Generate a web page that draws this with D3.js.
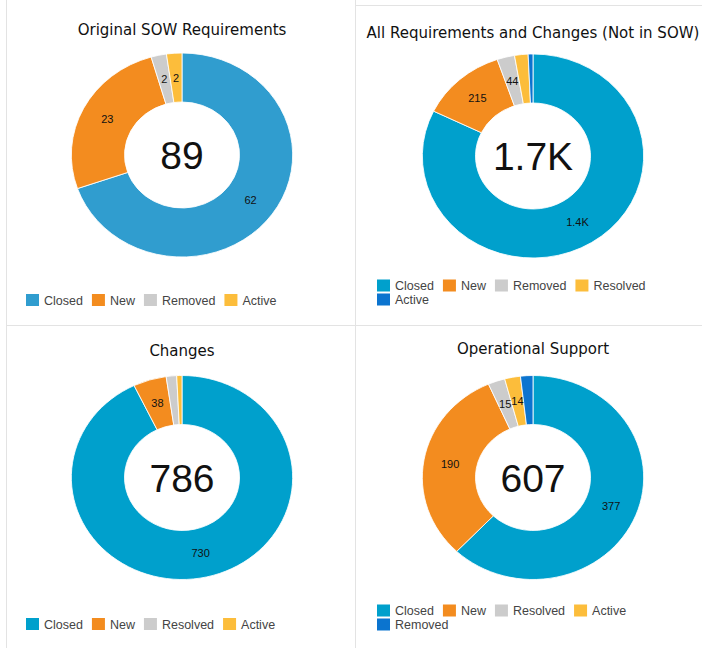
<!DOCTYPE html>
<html>
<head>
<meta charset="utf-8">
<script src="https://cdn.jsdelivr.net/npm/d3@7"></script>
<style>
  html, body { margin: 0; padding: 0; background: #fff; }
  svg { display: block; }
</style>
</head>
<body>
<div id="chart"></div>
<script>
// chart data
var sowCategories = ["Closed", "New", "Removed", "Active"];
var sowValues = [62, 23, 2, 2];

var allCategories = ["Closed", "New", "Removed", "Resolved", "Active"];
var allValues = [1413, 215, 44, 34, 12];

var changeCategories = ["Closed", "New", "Resolved", "Active"];
var changeValues = [730, 38, 12, 6];

var opsCategories = ["Closed", "New", "Resolved", "Active", "Removed"];
var opsValues = [377, 190, 15, 14, 11];

var titles = ["Original SOW Requirements", "All Requirements and Changes (Not in SOW)", "Changes", "Operational Support"];

// colours by slot (the SOW chart has a softer blue)
var slotColors = ["#00a0cc", "#f38c1f", "#cccccc", "#fcbd3b", "#0b74cf"];
var sowColors = ["#309dcf", "#f38c1f", "#cccccc", "#fcbd3b"];

var width = 702, height = 648;

var svg = d3.select("#chart").append("svg")
    .attr("width", width)
    .attr("height", height);

// panel borders
var border = "#e3e3e3";
svg.append("line").attr("x1", 6.5).attr("x2", 6.5).attr("y1", 0).attr("y2", height).attr("stroke", border);
svg.append("line").attr("x1", 355.5).attr("x2", 355.5).attr("y1", 0).attr("y2", height).attr("stroke", border);
svg.append("line").attr("x1", 356).attr("x2", width).attr("y1", 5.5).attr("y2", 5.5).attr("stroke", border);
svg.append("line").attr("x1", 7).attr("x2", width).attr("y1", 325.5).attr("y2", 325.5).attr("stroke", border);

var panels = [
    {title: titles[0], cats: sowCategories, vals: sowValues, colors: sowColors,
     cx: 182, cy: 155, titleY: 35, legendX: 26, legendY: 300, legendMax: 330},
    {title: titles[1], cats: allCategories, vals: allValues, colors: slotColors,
     cx: 533, cy: 156, titleY: 38, legendX: 377, legendY: 285.5, legendMax: 685},
    {title: titles[2], cats: changeCategories, vals: changeValues, colors: slotColors,
     cx: 182, cy: 477.5, titleY: 356, legendX: 26, legendY: 624, legendMax: 330},
    {title: titles[3], cats: opsCategories, vals: opsValues, colors: slotColors,
     cx: 533, cy: 477.5, titleY: 354, legendX: 377, legendY: 610.5, legendMax: 685}
];

var outerR = 102, innerR = 53, stretchX = 1.085;
var fmt = function(v) {
    if (v >= 1000) return d3.format(".2~s")(v).replace("k", "K");
    return "" + v;
};

panels.forEach(function(p) {
    var g = svg.append("g");

    g.append("text")
        .attr("x", p.cx)
        .attr("y", p.titleY)
        .attr("text-anchor", "middle")
        .style("font-family", "'DejaVu Sans', Verdana, sans-serif")
        .style("font-size", "15px")
        .style("fill", "#111")
        .text(p.title);

    var data = p.cats.map(function(c, i) { return {cat: c, value: p.vals[i], color: p.colors[i]}; });
    var pie = d3.pie().sort(null).value(function(d) { return d.value; });
    var arc = d3.arc().innerRadius(innerR).outerRadius(outerR);
    var arcs = pie(data);
    var total = d3.sum(p.vals);

    var donut = g.append("g")
        .attr("transform", "translate(" + p.cx + "," + p.cy + ") scale(" + stretchX + ",1)");

    donut.selectAll("path")
        .data(arcs)
        .enter().append("path")
        .attr("d", arc)
        .attr("fill", function(d) { return d.data.color; })
        .attr("stroke", "#fff")
        .attr("stroke-width", 0.8);

    // slice labels, only where the slice is wide enough
    g.selectAll("text.slice")
        .data(arcs.filter(function(d) { return (d.endAngle - d.startAngle) > 0.135; }))
        .enter().append("text")
        .attr("class", "slice")
        .attr("x", function(d) { return p.cx + arc.centroid(d)[0] * stretchX; })
        .attr("y", function(d) { return p.cy + arc.centroid(d)[1]; })
        .attr("dy", "0.35em")
        .attr("text-anchor", "middle")
        .style("font-family", "'Liberation Sans', Arial, sans-serif")
        .style("font-size", "11px")
        .style("fill", "#111")
        .text(function(d) { return fmt(d.data.value); });

    g.append("text")
        .attr("x", p.cx)
        .attr("y", p.cy)
        .attr("dy", "0.36em")
        .attr("text-anchor", "middle")
        .style("font-family", "'Liberation Sans', Arial, sans-serif")
        .style("font-size", "39px")
        .style("fill", "#111")
        .text(fmt(total));

    // legend, flowing left to right and wrapping
    var lx = p.legendX, ly = p.legendY;
    data.forEach(function(d) {
        var item = g.append("g");
        item.append("rect")
            .attr("width", 13).attr("height", 12)
            .attr("y", -6)
            .attr("fill", d.color);
        var t = item.append("text")
            .attr("x", 18)
            .attr("dy", "0.36em")
            .style("font-family", "'Liberation Sans', Arial, sans-serif")
            .style("font-size", "12.5px")
            .style("fill", "#444")
            .text(d.cat);
        var w = 18 + t.node().getComputedTextLength();
        if (lx + w > p.legendMax && lx > p.legendX) {
            lx = p.legendX;
            ly += 14;
        }
        item.attr("transform", "translate(" + lx + "," + ly + ")");
        lx += w + 9;
    });
});
</script>
</body>
</html>
